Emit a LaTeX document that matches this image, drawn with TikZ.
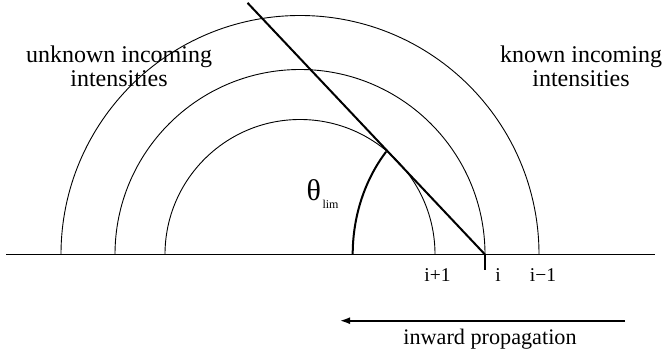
\documentclass[tikz,border=0pt]{standalone}
\usepackage{fontspec}
\setmainfont{Liberation Serif}
\usetikzlibrary{positioning,arrows.meta}

\begin{document}
\begin{tikzpicture}[x=1pt, y=1pt,
        shell/.style={line width=0.9pt},
        axis/.style={line width=1.4pt},
        thickline/.style={line width=2pt},
        arrow/.style={-{Latex[length=10pt,width=7pt]}, line width=1.6pt},
        cell/.style={font=\fontsize{19.5}{19}\selectfont, anchor=base, inner sep=0pt},
        side/.style={font=\fontsize{24}{24}\selectfont, align=center, anchor=base, inner sep=0pt}
    ]
        \useasboundingbox (0,0) rectangle (663,351);

        \coordinate (c) at (300,96.5);
        \coordinate (i) at (485,96.5);
        \coordinate (axisL) at (6,96.5);
        \coordinate (axisR) at (655,96.5);

        % shells
        \draw[axis] (axisL) -- (axisR);
        \draw[shell] (c) ++(135,0) arc[start angle=0, end angle=180, radius=135];
        \draw[shell] (c) ++(185,0) arc[start angle=0, end angle=180, radius=185];
        \draw[shell] (c) ++(239,0) arc[start angle=0, end angle=180, radius=239];

        % ray from i and limit angle
        \draw[thickline] (i) -- ++(133.34:346) coordinate (top);
        \draw[thickline] (i) -- ++(0,-15) coordinate (tick);
        \draw[thickline] (i) ++(-132.3,0) arc[start angle=180, end angle=138.4, x radius=132.3, y radius=154.7] coordinate (lim);

        \node[anchor=base west, inner sep=0pt] (theta) at (306.5,150) {\fontsize{30}{30}\selectfont θ\kern1.5pt{\fontsize{12}{12}\selectfont\raisebox{-7pt}{lim}}};

        \node[cell] (ip1) at (437.5,70) {i+1};
        \node[cell] (i0) at (498,70) {i};
        \node[cell] (im1) at (543,70) {i−1};

        \node[side] (unknown) at (119,264) {unknown incoming\\intensities};
        \node[side] (known) at (581,264) {known incoming\\intensities};

        \coordinate (arrowR) at (625,30.3);
        \coordinate (arrowL) at (340,30.3);
        \draw[arrow] (arrowR) -- (arrowL);
        \node[font=\fontsize{22.2}{22}\selectfont, anchor=base, inner sep=0pt] (inward) at (490,7) {inward propagation};
    \end{tikzpicture}
\end{document}
